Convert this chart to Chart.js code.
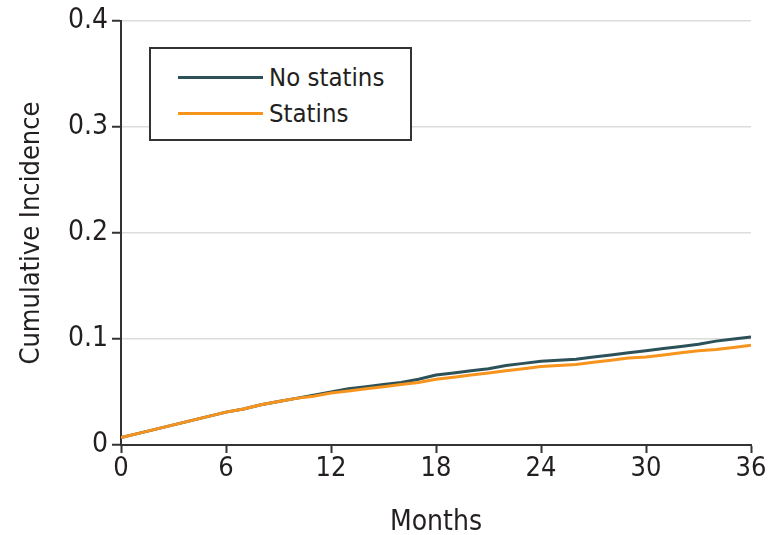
<!DOCTYPE html>
<html lang="en">
<head>
  <meta charset="UTF-8">
  <title>Cumulative Incidence</title>
  <script src="https://cdn.jsdelivr.net/npm/chart.js"></script>
  <style>
    html, body { margin: 0; padding: 0; background: #fff; }
    #wrap { position: relative; width: 771px; height: 535px; }
    /* legend box drawn over the chart area */
    .legend {
      position: absolute; left: 149px; top: 47px; width: 259px; height: 90px;
      border: 2px solid #333; background: #fff; box-sizing: content-box;
      font-family: 'DejaVu Sans Condensed', 'Open Sans', sans-serif; font-size: 25.5px; color: #231f20;
    }
    .legend .row { position: absolute; left: 27px; height: 30px; display: flex; align-items: center; }
    .legend .swatch { width: 85px; height: 3px; margin-right: 6px; }
  </style>
</head>
<body>
  <div id="wrap">
    <canvas id="chart" width="771" height="535"></canvas>
    <div class="legend">
      <div class="row" style="top:13px"><span class="swatch" style="background:#2d5159"></span>No statins</div>
      <div class="row" style="top:49px"><span class="swatch" style="background:#f7941d"></span>Statins</div>
    </div>
  </div>

  <script>
    const months = [0,1,2,3,4,5,6,7,8,9,10,11,12,13,14,15,16,17,18,19,20,21,22,23,24,25,26,27,28,29,30,31,32,33,34,35,36];
    const noStatins = [0.007,0.011,0.015,0.019,0.023,0.027,0.031,0.034,0.038,0.041,0.044,0.047,0.050,0.053,0.055,0.057,0.059,0.062,0.066,0.068,0.070,0.072,0.075,0.077,0.079,0.080,0.081,0.083,0.085,0.087,0.089,0.091,0.093,0.095,0.098,0.100,0.102];
    const statins = [0.007,0.011,0.015,0.019,0.023,0.027,0.031,0.034,0.038,0.041,0.044,0.046,0.049,0.051,0.053,0.055,0.057,0.059,0.062,0.064,0.066,0.068,0.070,0.072,0.074,0.075,0.076,0.078,0.080,0.082,0.083,0.085,0.087,0.089,0.090,0.092,0.094];
    const xTicks = [0, 6, 12, 18, 24, 30, 36];
    const yTicks = [0, 0.1, 0.2, 0.3, 0.4];

    const font = "'DejaVu Sans Condensed', 'Open Sans', sans-serif";
    const ink = '#231f20';

    const toPoints = vals => months.map((m, i) => ({ x: m, y: vals[i] }));

    new Chart(document.getElementById('chart'), {
      type: 'line',
      data: {
        datasets: [
          { label: 'Statins', data: toPoints(statins), borderColor: '#f7941d', borderWidth: 3, pointRadius: 0, tension: 0, order: 1 },
          { label: 'No statins', data: toPoints(noStatins), borderColor: '#2d5159', borderWidth: 3, pointRadius: 0, tension: 0, order: 2 }
        ]
      },
      options: {
        responsive: false,
        animation: false,
        layout: { padding: { top: 21, right: 20, left: 12, bottom: 0 } },
        plugins: { legend: { display: false }, tooltip: { enabled: false } },
        scales: {
          x: {
            type: 'linear', min: 0, max: 36,
            afterBuildTicks: s => { s.ticks = xTicks.map(v => ({ value: v })); },
            afterFit: s => { s.height = 90; },
            grid: { drawOnChartArea: false, tickColor: '#333', tickLength: 8, tickWidth: 2 },
            border: { color: '#333', width: 2 },
            ticks: { color: ink, font: { family: font, size: 27 }, padding: 0, maxRotation: 0 },
            title: { display: true, text: 'Months', color: ink, font: { family: font, size: 28 }, padding: { top: 0, bottom: -5 } }
          },
          y: {
            min: 0, max: 0.4,
            afterBuildTicks: s => { s.ticks = yTicks.map(v => ({ value: v })); },
            afterFit: s => { s.width = 109; },
            grid: { color: '#dcdcdc', lineWidth: 1.5, tickColor: '#333', tickLength: 9, tickWidth: 2 },
            border: { color: '#333', width: 2 },
            ticks: { color: ink, font: { family: font, size: 28 }, padding: 4, callback: v => v === 0 ? '0' : v.toFixed(1) },
            title: { display: true, text: 'Cumulative Incidence', color: ink, font: { family: font, size: 27 }, padding: { bottom: 0 } }
          }
        }
      }
    });
  </script>
</body>
</html>
